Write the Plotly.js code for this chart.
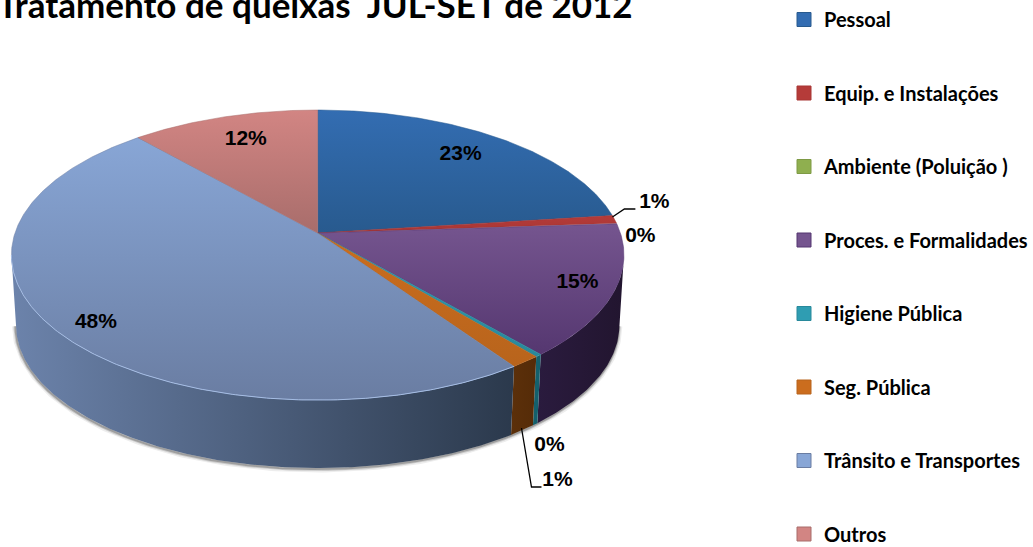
<!DOCTYPE html>
<html><head><meta charset="utf-8">
<script src="https://cdn.plot.ly/plotly-3.0.1.min.js"></script>
<style>html,body{margin:0;padding:0;background:#fff;overflow:hidden}</style>
</head><body><div id="chart" style="width:1033px;height:547px"></div>
<script>
// Data
const categories = ["Pessoal","Equip. e Instalações","Ambiente (Poluição )","Proces. e Formalidades","Higiene Pública","Seg. Pública","Trânsito e Transportes","Outros"];
const shares = [23.0,0.9,0.05,14.75,0.3,1.4,48.1,11.5];
const titleText = "Tratamento de queixas\u00A0 JUL-SET de 2012";

// Styling
const topLight = ["#336DB2","#B53B39","#8FAF4F","#75558F","#2F9DB2","#CB6D1E","#88A6D6","#D28583"];
const topDark  = ["#285A8E","#A83634","#7E9A45","#553770","#28899B","#B8641C","#6A7DA2","#A86D6B"];
const wallLeft = ["#1c3a5c","#6e2120","#4f622b","#2a1b3e","#14606C","#5C300A","#6C83AB","#7a4847"];
const wallRight= ["#1c3a5c","#6e2120","#4f622b","#22152F","#14606C","#552B08","#2B394C","#7a4847"];
const cx=318, cy=233, A=141.7, B=303, k=0.152, bottomScale=0.985, depth=70.5;
const labelX=[461,655,641,578,550,558,96,246], labelY=[155,203,237,283,446,481,323,140];
const leaderA={x:[613,625,636],y:[217,209,209]}, leaderB={x:[522,532,542],y:[428,487,487]};

function proj(phi){const c=Math.sin(phi),s=Math.cos(phi),d=1+k*s;return [B*c/d,-A*s/d];}
function topEdge(phi){const p=proj(phi);return [cx+p[0],cy+p[1]];}
function botEdge(phi){const p=proj(phi);return [cx+p[0]*bottomScale,cy+p[1]*bottomScale+depth];}
function arc(a,b,fn){const n=Math.max(2,Math.ceil((b-a)/0.01)),o=[];for(let i=0;i<=n;i++)o.push(fn(a+(b-a)*i/n));return o;}

const total=shares.reduce((a,b)=>a+b,0);
let acc=0; const starts=[],ends=[];
shares.forEach(v=>{starts.push(acc/total*2*Math.PI);acc+=v;ends.push(acc/total*2*Math.PI);});
const wallA=Math.acos(-k), wallB=2*Math.PI-wallA;
const traces=[], base={mode:'lines',hoverinfo:'skip',showlegend:false,type:'scatter'};

// soft shadow under the front wall
[[7,'rgba(0,0,0,0.07)'],[4,'rgba(0,0,0,0.14)'],[2,'rgba(0,0,0,0.22)']].forEach(([w,c])=>{
  const p=arc(wallA,wallB,botEdge);
  traces.push({...base,x:p.map(q=>q[0]-0.5),y:p.map(q=>q[1]+1),line:{color:c,width:w}});
});
// side walls
categories.forEach((n,i)=>{
  const a=Math.max(starts[i],wallA), b=Math.min(ends[i],wallB);
  if(b<=a) return;
  const t=arc(a,b,topEdge), u=arc(a,b,botEdge).reverse(), p=t.concat(u);
  p.push(p[0]);
  traces.push({...base,x:p.map(q=>q[0]),y:p.map(q=>q[1]),fill:'toself',line:{width:0,color:wallRight[i]},
    fillgradient:{type:'horizontal',colorscale:[[0,wallLeft[i]],[1,wallRight[i]]]}});
});
// top faces
categories.forEach((n,i)=>{
  const p=[[cx,cy]].concat(arc(starts[i],ends[i],topEdge)); p.push([cx,cy]);
  traces.push({...base,x:p.map(q=>q[0]),y:p.map(q=>q[1]),fill:'toself',line:{width:shares[i]<0.1?0:0.5,color:topDark[i]},
    fillgradient:{type:'vertical',colorscale:[[0,topDark[i]],[1,topLight[i]]]}});
});
// rim highlight on the front of the largest slice
{const p=arc(Math.max(starts[6],wallA),wallB,topEdge);
 traces.push({...base,x:p.map(q=>q[0]),y:p.map(q=>q[1]),line:{color:'#A5BDE4',width:1}});}
// leader lines
[leaderA,leaderB].forEach(l=>traces.push({...base,x:l.x,y:l.y,line:{color:'#000',width:1.3}}));
// percent labels
traces.push({type:'scatter',mode:'text',x:labelX,y:labelY,text:shares.map(v=>Math.round(v)+'%'),hoverinfo:'skip',showlegend:false,
  textposition:'middle center',textfont:{family:'Liberation Sans',size:21,color:'#000',weight:700}});
// legend entries
categories.forEach((n,i)=>{
  traces.push({type:'scatter',mode:'markers',x:[null],y:[null],name:n,legendgroup:n,showlegend:true,
    marker:{symbol:'square',size:14,color:topLight[i],line:{color:topDark[i],width:1}}});
});

const layout={
  width:1033,height:547,margin:{l:0,r:0,t:0,b:0,pad:0},paper_bgcolor:'#fff',plot_bgcolor:'#fff',
  xaxis:{range:[0,1033],visible:false,fixedrange:true},
  yaxis:{range:[547,0],visible:false,fixedrange:true},
  title:{text:'<b>'+titleText+'</b>',x:315/1033,xref:'container',xanchor:'center',y:1-5.5/547,yref:'container',yanchor:'middle',automargin:false,
    font:{family:'Lato',size:35,color:'#000'}},
  legend:{x:785/1033,y:1-13/547,xanchor:'left',yanchor:'top',traceorder:'grouped',tracegroupgap:44.5,itemwidth:30,
    bgcolor:'rgba(0,0,0,0)',font:{family:'Lato',size:20,color:'#000',weight:700}},
  showlegend:true
};
Plotly.newPlot('chart',traces,layout,{displayModeBar:false,staticPlot:true});
</script></body></html>
